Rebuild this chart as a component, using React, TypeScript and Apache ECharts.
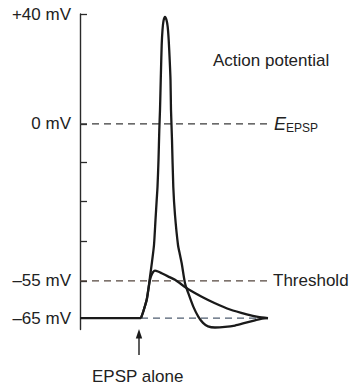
import React, { useEffect, useRef } from "react";
import * as echarts from "echarts";

// Schematic time units (horizontal) and schematic potential units (vertical)
const baselineTime = [0, 30.5];
const baselineLevel = [-68, -68];

const apTime = [30.5, 31.65, 33.35, 34.15, 35, 36, 37, 37.75, 38.35, 38.75, 39.25, 39.65, 40, 40.25, 40.5, 40.85, 41.25, 41.75, 42.5, 43.25, 43.85, 44.35, 44.85, 45.25, 45.5, 46, 46.65, 47.5, 49, 50, 50.85, 52.5, 54.15, 56.65, 59.15, 61.5, 64, 67.5, 72.5, 77.5, 82.5, 87.5, 91, 94];
const apLevel = [-68, -65.7, -61.6, -58.1, -53.6, -48.3, -42.4, -33.6, -26.6, -22.1, -12.6, -2.1, 4.9, 11.9, 18.9, 27.7, 32.9, 36.1, 37.5, 36.4, 34.0, 29.4, 22.4, 15.4, 4.9, -5.6, -22.1, -31.9, -42.4, -45.9, -48.8, -55.8, -59.3, -64.0, -67.5, -69.7, -70.9, -71.3, -71.1, -70.6, -69.7, -68.8, -68.2, -68];

const epspTime = [30.5, 31.65, 33.35, 34.15, 35, 36, 37.5, 39, 40.85, 44, 47.5, 54.15, 60.85, 67.5, 75, 83.35, 89, 94];
const epspLevel = [-68, -65.7, -61.6, -58.1, -54.6, -52.5, -51.4, -51.7, -52.3, -53.4, -54.6, -57.9, -60.5, -62.8, -65.0, -66.7, -67.6, -68];

const zeroLineTime = [0, 95];
const zeroLevel = 0;
const thresholdTime = [0, 94];
const thresholdLevel = -55;
const restDashTime = [30.5, 94];
const restLevel = -68;

const tickLevels = [38.5, 0, -13.3, -27, -41, -55];
const labelLevels = [38.5, 0, -55, -68];
const labelTexts = ["+40 mV", "0 mV", "\u201355 mV", "\u201365 mV"];

const zip = (xs: number[], ys: number[]) => xs.map((x, i) => [x, ys[i]]);
const FONT = "'Liberation Sans', Arial, Helvetica, sans-serif";

export default function App() {
  const ref = useRef<HTMLDivElement>(null);
  useEffect(() => {
    if (!ref.current) return;
    const chart = echarts.init(ref.current, undefined, { renderer: "svg" });
    const dashed = (color: string) => ({ color, width: 1.3, type: [7, 5] as number[] });
    chart.setOption({
      animation: false,
      textStyle: { fontFamily: FONT },
      grid: { left: 80, top: 14, width: 200, height: 315.5 },
      xAxis: { type: "value", min: 0, max: 100, show: false },
      yAxis: {
        type: "value",
        min: -72,
        max: 38.5,
        splitLine: { show: false },
        axisLine: { show: true, lineStyle: { color: "#2a2a2a", width: 1.4 } },
        axisTick: {
          show: true,
          inside: true,
          length: 7,
          customValues: tickLevels,
          lineStyle: { color: "#2a2a2a", width: 1.3 },
        },
        axisLabel: {
          customValues: labelLevels,
          margin: 9,
          color: "#222",
          fontSize: 17,
          fontFamily: FONT,
          formatter: (v: number) => {
            let best = 0;
            labelLevels.forEach((l, i) => {
              if (Math.abs(l - v) < Math.abs(labelLevels[best] - v)) best = i;
            });
            return labelTexts[best];
          },
        },
      },
      series: [
        {
          type: "line",
          data: zip(zeroLineTime, zeroLineTime.map(() => zeroLevel)),
          symbol: "none",
          lineStyle: dashed("#3a3a3a"),
          z: 1,
          endLabel: {
            show: true,
            distance: 4,
            formatter: "{e|E}{s|EPSP}",
            rich: {
              e: { fontSize: 18, fontStyle: "italic", color: "#222", fontFamily: FONT, lineHeight: 20 },
              s: { fontSize: 12, color: "#222", fontFamily: FONT, verticalAlign: "bottom", lineHeight: 12, padding: [10, 0, 0, 0] },
            },
          },
        },
        {
          type: "line",
          data: zip(thresholdTime, thresholdTime.map(() => thresholdLevel)),
          symbol: "none",
          lineStyle: dashed("#54463e"),
          z: 1,
          endLabel: {
            show: true,
            distance: 5,
            formatter: "Threshold",
            fontSize: 17,
            color: "#222",
            fontFamily: FONT,
          },
        },
        {
          type: "line",
          data: zip(restDashTime, restDashTime.map(() => restLevel)),
          symbol: "none",
          lineStyle: dashed("#4f5d70"),
          z: 1,
        },
        {
          type: "line",
          data: zip(baselineTime, baselineLevel),
          symbol: "none",
          lineStyle: { color: "#1a1a1a", width: 2.3 },
          z: 3,
        },
        {
          type: "line",
          data: zip(epspTime, epspLevel),
          symbol: "none",
          smooth: 0.25,
          lineStyle: { color: "#1a1a1a", width: 2.3 },
          z: 3,
        },
        {
          type: "line",
          data: zip(apTime, apLevel),
          symbol: "none",
          smooth: 0.25,
          lineStyle: { color: "#1a1a1a", width: 2.3 },
          z: 3,
        },
      ],
      graphic: [
        {
          type: "text",
          left: 213,
          top: 52,
          style: { text: "Action potential", fontSize: 17, fill: "#222", fontFamily: FONT },
        },
        {
          type: "line",
          shape: { x1: 139, y1: 355, x2: 139, y2: 335 },
          style: { stroke: "#1a1a1a", lineWidth: 1.4 },
        },
        {
          type: "polygon",
          shape: { points: [[139, 329], [135.8, 338.5], [142.2, 338.5]] },
          style: { fill: "#1a1a1a" },
        },
        {
          type: "text",
          left: 92,
          top: 368,
          style: { text: "EPSP alone", fontSize: 17, fill: "#222", fontFamily: FONT },
        },
      ],
    });
    return () => chart.dispose();
  }, []);
  return (
    <div
      ref={ref}
      style={{ position: "fixed", left: 0, top: 0, width: 355, height: 390, background: "#fff" }}
    />
  );
}
